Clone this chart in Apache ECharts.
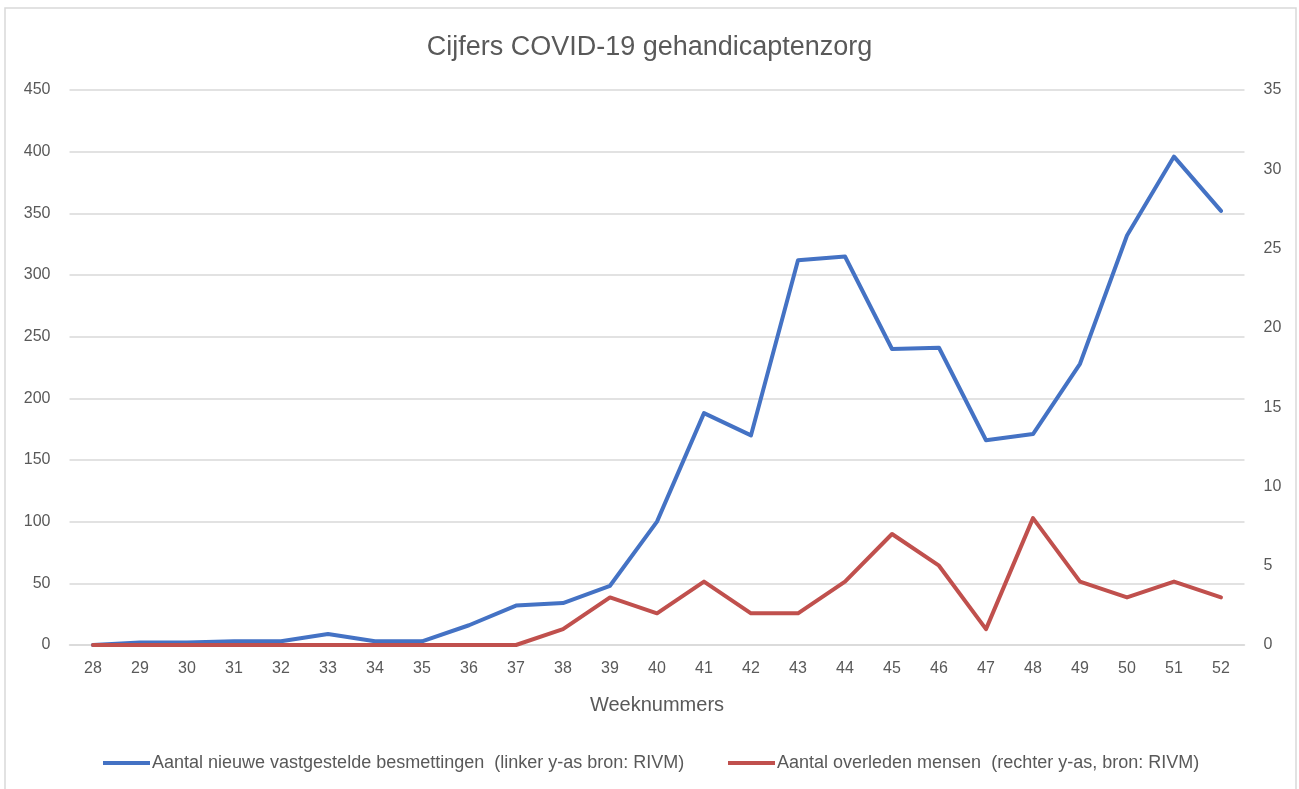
<!DOCTYPE html>
<html>
<head>
<meta charset="utf-8">
<title>Cijfers COVID-19 gehandicaptenzorg</title>
<script src="https://cdn.jsdelivr.net/npm/echarts@6/dist/echarts.min.js"></script>
<style>
  html, body { margin: 0; padding: 0; background: #fff; }
  #chart { width: 1299px; height: 789px; }
</style>
</head>
<body>
<div id="chart"></div>
<script>
// weeknummers
const weeks = ['28','29','30','31','32','33','34','35','36','37','38','39','40','41','42','43','44','45','46','47','48','49','50','51','52']
// linker y-as
const besmettingen = [0, 2, 2, 3, 3, 9, 3, 3, 16, 32, 34, 48, 100, 188, 170, 312, 315, 240, 241, 166, 171, 228, 332, 396, 352]
// rechter y-as
const overleden = [0, 0, 0, 0, 0, 0, 0, 0, 0, 0, 1, 3, 2, 4, 2, 2, 4, 7, 5, 1, 8, 4, 3, 4, 3]

const nameBesmet = 'Aantal nieuwe vastgestelde besmettingen  (linker y-as bron: RIVM)'
const nameOverleden = 'Aantal overleden mensen  (rechter y-as, bron: RIVM)'

const textColor = '#595959'
const fontFamily = '"Liberation Sans", Arial, sans-serif'

const chart = echarts.init(document.getElementById('chart'), null, { renderer: 'canvas' })

const legendStyle = {
  top: 752,
  padding: 0,
  icon: 'rect',
  itemWidth: 47,
  itemHeight: 4,
  itemGap: 0,
  textStyle: { color: textColor, fontSize: 18, fontFamily: fontFamily, lineHeight: 22, padding: [0, 0, 0, -3] }
}

chart.setOption({
  backgroundColor: '#fff',
  animation: false,
  // kader rond de grafiek
  graphic: [{
    type: 'rect',
    shape: { x: 5, y: 8, width: 1291, height: 800 },
    style: { fill: 'none', stroke: '#D9D9D9', lineWidth: 1.5 }
  }],
  title: {
    text: 'Cijfers COVID-19 gehandicaptenzorg',
    left: 'center',
    top: 29,
    textStyle: { color: textColor, fontSize: 27, fontWeight: 'normal', fontFamily: fontFamily }
  },
  legend: [
    Object.assign({ left: 103, data: [nameBesmet] }, legendStyle),
    Object.assign({ left: 728, data: [nameOverleden] }, legendStyle)
  ],
  grid: {
    left: 69.5,
    right: 54.5,
    top: 90,
    bottom: 144,
    containLabel: false
  },
  xAxis: [{
    type: 'category',
    data: weeks,
    boundaryGap: true,
    name: 'Weeknummers',
    nameLocation: 'middle',
    nameGap: 50,
    nameTextStyle: { color: textColor, fontSize: 20, fontFamily: fontFamily },
    axisLine: { show: true, lineStyle: { color: '#D9D9D9', width: 1.5 } },
    axisTick: { show: false },
    axisLabel: { color: textColor, fontSize: 16, fontFamily: fontFamily, margin: 16 }
  }],
  yAxis: [{
    type: 'value',
    min: 0,
    max: 450,
    interval: 50,
    axisLine: { show: false },
    axisTick: { show: false },
    axisLabel: { color: textColor, fontSize: 16, fontFamily: fontFamily, margin: 19 },
    splitLine: { show: true, lineStyle: { color: '#D9D9D9', width: 1.5 } }
  }, {
    type: 'value',
    min: 0,
    max: 35,
    interval: 5,
    axisLine: { show: false },
    axisTick: { show: false },
    axisLabel: { color: textColor, fontSize: 16, fontFamily: fontFamily, margin: 19 },
    splitLine: { show: false }
  }],
  series: [{
    name: nameBesmet,
    type: 'line',
    yAxisIndex: 0,
    data: besmettingen,
    symbol: 'none',
    itemStyle: { color: '#4472C4' },
    lineStyle: { color: '#4472C4', width: 4, join: 'round', cap: 'round' }
  }, {
    name: nameOverleden,
    type: 'line',
    yAxisIndex: 1,
    data: overleden,
    symbol: 'none',
    itemStyle: { color: '#C0504D' },
    lineStyle: { color: '#C0504D', width: 4, join: 'round', cap: 'round' }
  }]
})
</script>
</body>
</html>
